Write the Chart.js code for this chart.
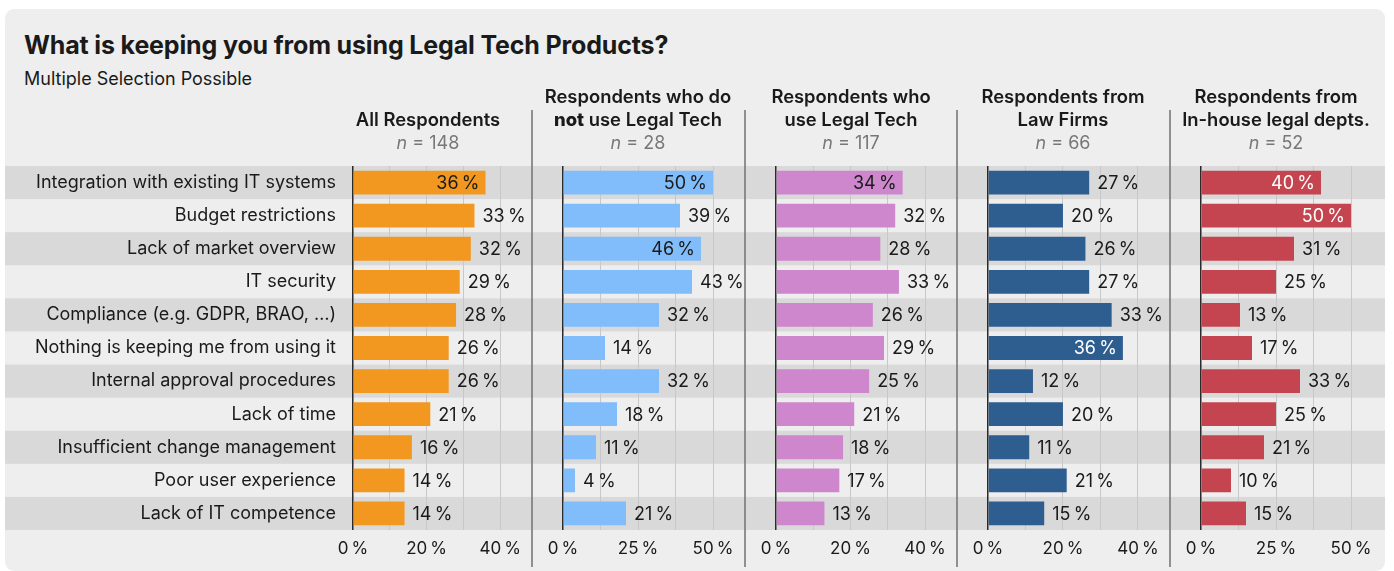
<!DOCTYPE html>
<html>
<head>
<meta charset="utf-8">
<script src="https://cdn.jsdelivr.net/npm/chart.js@4"></script>
<style>
  body { margin: 0; background: #fff; font-family: Inter, "Noto Sans", sans-serif; color: #1a1a1a; }
  #card { position: absolute; left: 5px; top: 9px; width: 1380px; height: 562px; background: #eeeeee; border-radius: 9px; }
  #title { position: absolute; left: 24px; top: 30px; font-size: 25px; line-height: 30px; font-weight: 700; letter-spacing: -0.15px; white-space: nowrap; }
  #subtitle { position: absolute; left: 24px; top: 68px; font-size: 18px; line-height: 22px; white-space: nowrap; }
  .panel { position: absolute; top: 100px; }
  .head { position: absolute; top: 85px; height: 69px; width: 260px; display: flex; flex-direction: column;
          justify-content: flex-end; text-align: center; font-size: 18.4px; line-height: 23px; white-space: nowrap; }
  .head .name { font-weight: 600; }
  .head .name strong { font-weight: 800; }
  .head .n { color: #777; font-size: 18px; }
</style>
</head>
<body>
<div id="card"></div>
<div id="title">What is keeping you from using Legal Tech Products?</div>
<div id="subtitle">Multiple Selection Possible</div>
<div id="panels"></div>
<script>
// reasons, top to bottom
const categories = [
  "Integration with existing IT systems",
  "Budget restrictions",
  "Lack of market overview",
  "IT security",
  "Compliance (e.g. GDPR, BRAO, …)",
  "Nothing is keeping me from using it",
  "Internal approval procedures",
  "Lack of time",
  "Insufficient change management",
  "Poor user experience",
  "Lack of IT competence"
];

// share of respondents (%) per group
const allRespondents = [36, 33, 32, 29, 28, 26, 26, 21, 16, 14, 14];
const nonUsers       = [50, 39, 46, 43, 32, 14, 32, 18, 11, 4, 21];
const users          = [34, 32, 28, 33, 26, 29, 25, 21, 18, 17, 13];
const lawFirms       = [27, 20, 26, 27, 33, 36, 12, 20, 11, 21, 15];
const inHouse        = [40, 50, 31, 25, 13, 17, 33, 25, 21, 10, 15];

const groupTitles = [
  ["All Respondents"],
  ["Respondents who do", "**not** use Legal Tech"],
  ["Respondents who", "use Legal Tech"],
  ["Respondents from", "Law Firms"],
  ["Respondents from", "In-house legal depts."]
];
const groupN = [148, 28, 117, 66, 52];

// Colours
const ORANGE = "#f2971f";
const SKY    = "#80bdfa";
const ORCHID = "#ce86cd";
const NAVY   = "#2e5e8f";
const RED    = "#c4454f";
const TEXT   = "#1a1a1a";
const STRIPE = "#d9d9d9";
const GRID   = "#c8c8c8";
const SEP    = "#707070";
const FONT   = "Inter, 'Noto Sans', sans-serif";

const PLOT_W = 168.75;   // px of the plot, gridMax covers 8/9 of it
const PCT = "\u2009%";

const panels = [
  { data: allRespondents, color: ORANGE, gridMax: 40, insideFrom: 36, insideText: TEXT,   left: 5,    width: 526, axisW: 348 },
  { data: nonUsers,       color: SKY,    gridMax: 50, insideFrom: 46, insideText: TEXT,   left: 531,  width: 213, axisW: 32 },
  { data: users,          color: ORCHID, gridMax: 40, insideFrom: 34, insideText: TEXT,   left: 744,  width: 212, axisW: 32 },
  { data: lawFirms,       color: NAVY,   gridMax: 40, insideFrom: 36, insideText: "#fff", left: 956,  width: 213, axisW: 32 },
  { data: inHouse,        color: RED,    gridMax: 50, insideFrom: 40, insideText: "#fff", left: 1169, width: 216, axisW: 32 }
];

const host = document.getElementById("panels");

// ── grey bands behind every other row ─────────────────────────────────
const stripes = {
  id: "stripes",
  beforeDraw(chart) {
    const { ctx, width } = chart;
    const y = chart.scales.y;
    const h = y.height / categories.length;
    ctx.save();
    ctx.fillStyle = STRIPE;
    categories.forEach((c, i) => {
      if (i % 2 === 0) ctx.fillRect(0, y.getPixelForValue(i) - h / 2, width, h);
    });
    ctx.restore();
  }
};

function makeLabels(p) {
  return {
    id: "valueLabels",
    afterDatasetsDraw(chart) {
      const { ctx } = chart;
      ctx.save();
      ctx.font = `18px ${FONT}`;
      ctx.textBaseline = "middle";
      chart.getDatasetMeta(0).data.forEach((bar, i) => {
        const v = p.data[i];
        const inside = v >= p.insideFrom;
        ctx.textAlign = inside ? "right" : "left";
        ctx.fillStyle = inside ? p.insideText : TEXT;
        ctx.fillText(v + PCT, inside ? bar.x - 6 : bar.x + 8, bar.y + 1);
      });
      ctx.restore();
    }
  };
}

function makeSeparator(idx) {
  return {
    id: "separator",
    afterDraw(chart) {
      if (idx === 0) return;
      const { ctx } = chart;
      ctx.save();
      ctx.strokeStyle = SEP;
      ctx.lineWidth = 1.5;
      ctx.beginPath();
      ctx.moveTo(1, 10);
      ctx.lineTo(1, 467);
      ctx.stroke();
      ctx.restore();
    }
  };
}

panels.forEach((p, idx) => {
  const zero = p.left + p.axisW;

  // header
  const head = document.createElement("div");
  head.className = "head";
  head.style.left = (zero + 75 - 130) + "px";
  const lines = groupTitles[idx].map(t => t.replace(/\*\*(.+?)\*\*/, "<strong>$1</strong>")).join("<br>");
  head.innerHTML = `<div class="name">${lines}</div><div class="n"><i>n</i> = ${groupN[idx]}</div>`;
  document.body.appendChild(head);

  // chart
  const wrap = document.createElement("div");
  wrap.className = "panel";
  wrap.style.left = p.left + "px";
  const canvas = document.createElement("canvas");
  canvas.width = p.width;
  canvas.height = 470;
  canvas.style.width = p.width + "px";
  canvas.style.height = "470px";
  wrap.appendChild(canvas);
  host.appendChild(wrap);

  const step = p.gridMax / 4;
  const tickValues = [0, 1, 2, 3, 4].map(k => k * step);

  new Chart(canvas, {
    type: "bar",
    data: {
      labels: categories,
      datasets: [{
        data: p.data,
        backgroundColor: p.color,
        barPercentage: 0.72,
        categoryPercentage: 1
      }]
    },
    options: {
      indexAxis: "y",
      responsive: false,
      animation: false,
      devicePixelRatio: 1,
      layout: { padding: { top: 66, bottom: 0, left: 0, right: p.width - p.axisW - PLOT_W } },
      plugins: { legend: { display: false }, tooltip: { enabled: false } },
      scales: {
        x: {
          min: 0,
          max: p.gridMax * 1.125,
          afterBuildTicks: axis => { axis.ticks = tickValues.map(v => ({ value: v })); },
          afterFit: axis => { axis.height = 40; },
          border: { display: false },
          grid: {
            drawTicks: false,
            color: c => (c.tick && c.tick.value === 0 ? "#2a2a2a" : GRID),
            lineWidth: c => (c.tick && c.tick.value === 0 ? 1.5 : 1)
          },
          ticks: {
            autoSkip: false,
            maxRotation: 0,
            padding: 9,
            color: TEXT,
            font: { family: FONT, size: 17 },
            callback: v => (v % (p.gridMax / 2) === 0 ? v + PCT : "")
          }
        },
        y: {
          afterFit: axis => { axis.width = p.axisW; },
          border: { display: false },
          grid: { display: false, drawTicks: false },
          ticks: {
            display: idx === 0,
            padding: 17,
            color: TEXT,
            font: { family: FONT, size: 18 }
          }
        }
      }
    },
    plugins: [stripes, makeLabels(p), makeSeparator(idx)]
  });
});
</script>
</body>
</html>
